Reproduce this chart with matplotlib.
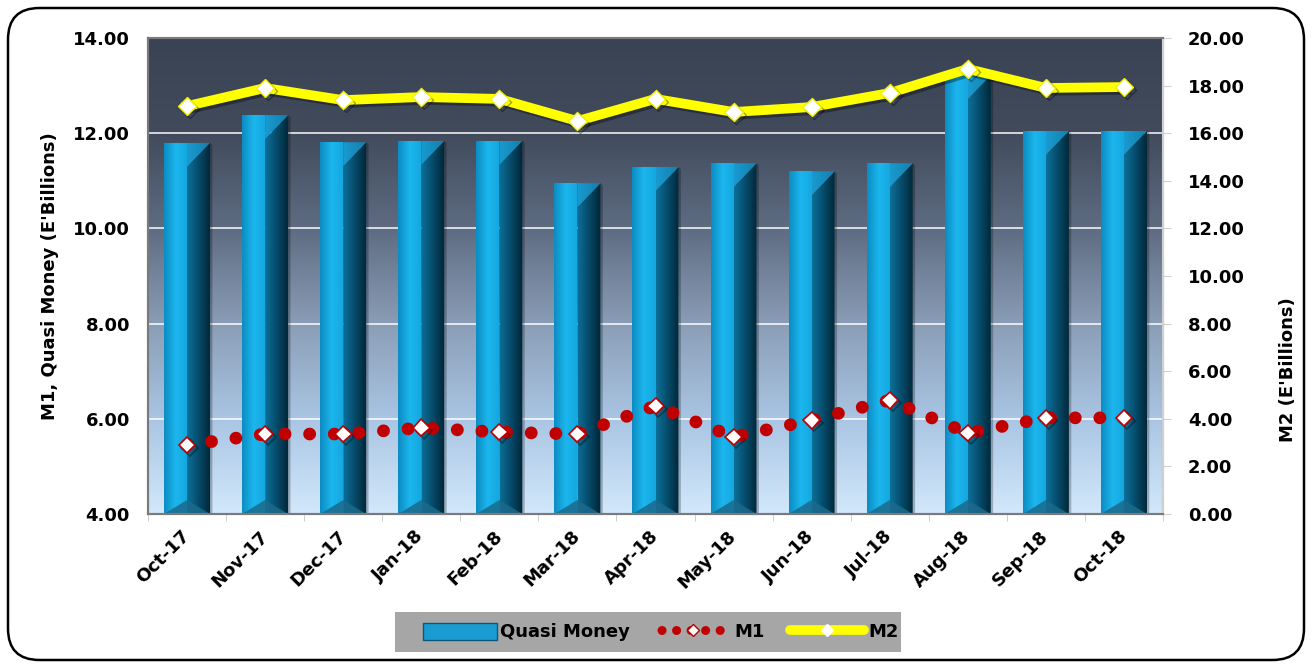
import matplotlib
matplotlib.use("Agg")
import matplotlib.pyplot as plt
import numpy as np
from matplotlib.colors import LinearSegmentedColormap
from matplotlib.patches import Polygon, Patch, FancyBboxPatch, Rectangle
from matplotlib.lines import Line2D
import matplotlib.patheffects as pe

months = ['Oct-17', 'Nov-17', 'Dec-17', 'Jan-18', 'Feb-18', 'Mar-18', 'Apr-18',
          'May-18', 'Jun-18', 'Jul-18', 'Aug-18', 'Sep-18', 'Oct-18']
quasi_money = [11.80, 12.38, 11.81, 11.84, 11.84, 10.95, 11.29,
               11.37, 11.20, 11.37, 13.22, 12.05, 12.05]
m1 = [5.45, 5.68, 5.68, 5.81, 5.72, 5.68, 6.27, 5.62, 5.97, 6.39, 5.70, 6.02, 6.02]
m2 = [17.14, 17.90, 17.39, 17.52, 17.44, 16.51, 17.44, 16.89, 17.10, 17.69, 18.70, 17.90, 17.94]

plt.rcParams['font.family'] = 'DejaVu Sans'
plt.rcParams['font.weight'] = 'bold'

fig = plt.figure(figsize=(13.12, 6.64), dpi=100)
fig.patch.set_facecolor('white')

# rounded outer frame
frame = FancyBboxPatch((8/1312, 4/664), 1296/1312, 652/664, transform=fig.transFigure,
                       boxstyle="round,pad=0,rounding_size=0.024", mutation_aspect=1312/664,
                       facecolor='none', edgecolor='black', lw=1.8, zorder=0)
fig.patches.append(frame)

ax = fig.add_axes([148/1312, 150/664, 1015/1312, 476/664])
ax2 = ax.twinx()

ymin, ymax = 4, 14
ax.set_xlim(-0.5, len(months) - 0.5)
ax.set_ylim(ymin, ymax)
ax2.set_ylim(0, 20)

# background gradient
bg = LinearSegmentedColormap.from_list('bg', [(0, '#d2e8fb'), (0.2, '#a9c5e3'), (0.4, '#8a9db6'),
                                              (0.6, '#5e6c82'), (0.8, '#414b5c'), (1, '#3a4353')])
ax.imshow(np.linspace(0, 1, 256).reshape(-1, 1), cmap=bg, origin='lower', aspect='auto',
          extent=[0, 1, 0, 1], transform=ax.transAxes, zorder=-2)
ax.yaxis.grid(True, color='white', lw=1.2, alpha=0.9)
ax.set_axisbelow(True)

# 3D-looking bars
px = (ymax - ymin) / 476.0
bev = 24 * px
half = 0.295
left_cm = LinearSegmentedColormap.from_list('lf', ['#0b8cc2', '#1cb6ee', '#15a6de'])
right_cm = LinearSegmentedColormap.from_list('rf', ['#0b7099', '#064a69', '#022636'])
top_cm = LinearSegmentedColormap.from_list('tp', ['#1a9ad0', '#137eaa'])
grad = np.linspace(0, 1, 64).reshape(1, -1)

def grad_poly(pts, cmap, x0, x1, y0, y1):
    poly = Polygon(pts, closed=True, facecolor='none', edgecolor='none', transform=ax.transData)
    ax.add_patch(poly)
    im = ax.imshow(grad, cmap=cmap, aspect='auto', extent=[x0, x1, y0, y1], zorder=2)
    im.set_clip_path(poly)

for i, v in enumerate(quasi_money):
    # shadow
    ax.add_patch(Polygon([(i + half, ymin), (i + half + 0.03, ymin), (i + half + 0.03, v - 0.05),
                          (i + half, v)], facecolor='black', alpha=0.25, edgecolor='none', zorder=1.5))
    grad_poly([(i - half, ymin), (i, ymin), (i, v), (i - half, v)], left_cm, i - half, i, ymin, v)
    grad_poly([(i, ymin), (i + half, ymin), (i + half, v), (i, v - bev)], right_cm, i, i + half, ymin, v)
    grad_poly([(i, v), (i + half, v), (i, v - bev)], top_cm, i, i + half, v - bev, v)
    ax.add_patch(Polygon([(i - half, ymin), (i + half, ymin), (i, ymin + 14 * px)],
                         facecolor='#1b6a8c', alpha=0.85, edgecolor='none', zorder=2.5))

ax.set_xlim(-0.5, len(months) - 0.5)
ax.set_ylim(ymin, ymax)

# lines
shadow = [pe.SimpleLineShadow(offset=(2, -2), alpha=0.35), pe.Normal()]
ax.plot(range(len(months)), m1, color='#c00000', lw=9.2, linestyle=(0, (0.01, 1.92)),
        dash_capstyle='round', zorder=5)
ax.plot(range(len(months)), m1, linestyle='none', marker='D', markersize=8.5,
        markerfacecolor='white', markeredgecolor='#c00000', markeredgewidth=1.2,
        zorder=6, path_effects=shadow)
ax2.plot(range(len(months)), m2, color='#ffff00', lw=7, marker='D', markersize=9.5,
         markerfacecolor='white', markeredgecolor='#f0f000', markeredgewidth=1,
         zorder=5, path_effects=shadow)

# axes styling
ax.set_yticks(np.arange(4, 14.1, 2))
ax.set_yticklabels([f'{t:.2f}' for t in np.arange(4, 14.1, 2)])
ax2.set_yticks(np.arange(0, 20.1, 2))
ax2.set_yticklabels([f'{t:.2f}' for t in np.arange(0, 20.1, 2)])
ax.tick_params(axis='y', length=0, pad=13, labelsize=13)
ax2.tick_params(axis='y', length=6, color='#d0d0d0', pad=12, labelsize=13)
ax.set_xticks(range(len(months)))
ax.set_xticklabels(months, rotation=45, ha='right', va='center', rotation_mode='anchor')
ax.set_xticks(np.arange(-0.5, len(months), 1), minor=True)
ax.tick_params(axis='x', which='major', length=0, pad=14, labelsize=13)
ax.tick_params(axis='x', which='minor', length=5, color='#c8c8c8')
for a in (ax, ax2):
    for s in a.spines.values():
        s.set_color('#7a7a7a')
        s.set_linewidth(1.5)
ax2.spines['right'].set_color('#d0d0d0')

ax.set_ylabel("M1, Quasi Money (E'Billions)", fontsize=13, fontweight='bold', labelpad=10)
fig.text(0.982, 0.444, "M2 (E'Billions)", rotation=90, ha='center', va='center',
         fontsize=13, fontweight='bold')

# legend: grey band plus frameless legend
fig.patches.append(Rectangle((395/1312, 12/664), 506/1312, 40/664, transform=fig.transFigure,
                             facecolor='#a6a6a6', edgecolor='none', zorder=1))
handles = [Patch(facecolor='#1a9cd2', edgecolor='#0b5878'),
           Line2D([0], [0], color='#c00000', lw=6.5, linestyle=(1.0, (0.01, 1.6)), dash_capstyle='round',
                  marker='D', markersize=6.5, markerfacecolor='white', markeredgecolor='#c00000'),
           Line2D([0], [0], color='#ffff00', lw=7, solid_capstyle='round', marker='D', markersize=6,
                  markerfacecolor='white', markeredgecolor='white')]
leg = fig.legend(handles, ['Quasi Money', 'M1', 'M2'], loc='center', bbox_to_anchor=(660.5/1312, 32/664),
                 ncol=3, frameon=False, handlelength=4.1, handleheight=1.1, handletextpad=0.2,
                 columnspacing=1.45, numpoints=1, borderpad=0.2,
                 prop={'size': 13, 'weight': 'bold'})
leg.set_zorder(3)

fig.savefig('out.png', dpi=100)
